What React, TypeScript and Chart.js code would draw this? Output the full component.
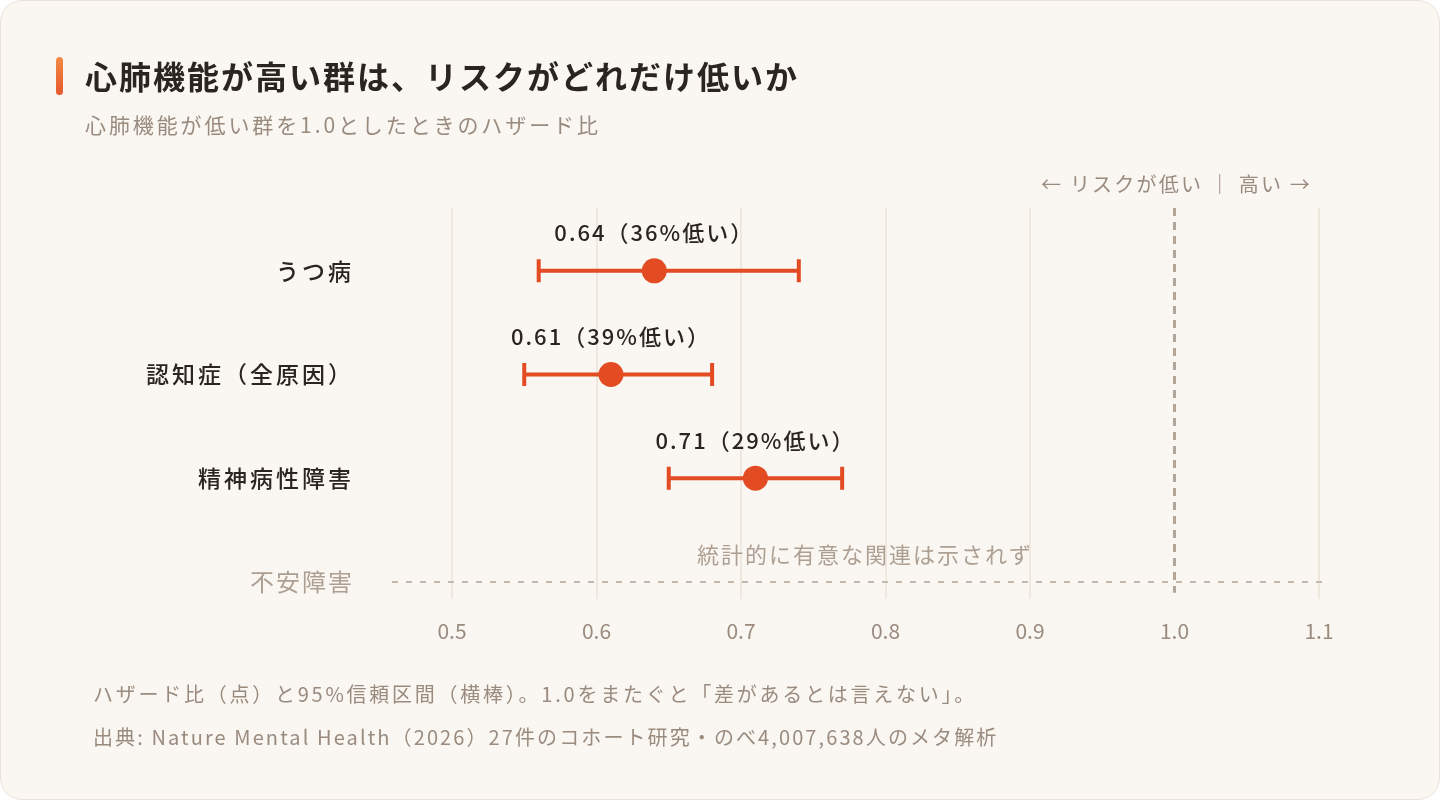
import { useEffect, useRef } from 'react';
import { Chart, registerables } from 'chart.js';

Chart.register(...registerables);

// Outcomes, top to bottom
const outcomes = ['うつ病', '認知症（全原因）', '精神病性障害', '不安障害'];
// Hazard ratio (high vs. low cardiorespiratory fitness) and 95% CI; null = no significant association
const hazardRatios: (number | null)[] = [0.64, 0.61, 0.71, null];
const ciLower: (number | null)[] = [0.56, 0.55, 0.65, null];
const ciUpper: (number | null)[] = [0.74, 0.68, 0.77, null];
const xTickValues = [0.5, 0.6, 0.7, 0.8, 0.9, 1.0, 1.1];
const referenceValue = 1.0;

const titleText = '心肺機能が高い群は、リスクがどれだけ低いか';
const subtitleText = '心肺機能が低い群を1.0としたときのハザード比';
const directionText = '← リスクが低い ｜ 高い →';
const nonSignificantText = '統計的に有意な関連は示されず';
const footnoteLines = [
  'ハザード比（点）と95%信頼区間（横棒）。1.0をまたぐと「差があるとは言えない」。',
  '出典: Nature Mental Health（2026）27件のコホート研究・のべ4,007,638人のメタ解析',
];

const FONT = '"Noto Sans CJK JP", "Noto Sans", sans-serif';
const ACCENT = '#e34b23';
const INK = '#2a2521';
const MUTED = '#9a8b7f';
const FAINT = '#ad9f92';

const valueLabel = (hr: number) => `${hr.toFixed(2)}（${Math.round((1 - hr) * 100)}%低い）`;

function setText(ctx: CanvasRenderingContext2D, size: number, weight: number, color: string, spacing: number) {
  ctx.font = `${weight} ${size}px ${FONT}`;
  ctx.fillStyle = color;
  (ctx as any).letterSpacing = `${spacing}px`;
}

const forestPlugin = {
  id: 'forest',
  beforeDatasetsDraw(chart: Chart) {
    const { ctx, scales, chartArea } = chart;
    const x = scales.x;
    const y = scales.y;
    ctx.save();

    // reference line at HR = 1.0
    const xr = x.getPixelForValue(referenceValue);
    ctx.strokeStyle = '#b3a699';
    ctx.lineWidth = 3;
    ctx.setLineDash([8, 6]);
    ctx.beginPath();
    ctx.moveTo(xr, chartArea.top);
    ctx.lineTo(xr, chartArea.bottom - 6);
    ctx.stroke();

    // confidence intervals with end caps
    ctx.setLineDash([]);
    ctx.strokeStyle = ACCENT;
    ctx.lineWidth = 4;
    outcomes.forEach((_, i) => {
      const lo = ciLower[i];
      const hi = ciUpper[i];
      if (lo == null || hi == null) return;
      const py = y.getPixelForValue(i);
      const x0 = x.getPixelForValue(lo);
      const x1 = x.getPixelForValue(hi);
      ctx.beginPath();
      ctx.moveTo(x0, py);
      ctx.lineTo(x1, py);
      ctx.moveTo(x0, py - 11.5);
      ctx.lineTo(x0, py + 11.5);
      ctx.moveTo(x1, py - 11.5);
      ctx.lineTo(x1, py + 11.5);
      ctx.stroke();
    });

    // non-significant outcome: dashed guide across the plot
    outcomes.forEach((_, i) => {
      if (hazardRatios[i] != null) return;
      const py = y.getPixelForValue(i);
      const x0 = chartArea.left - 60;
      const x1 = chartArea.right + 3;
      ctx.strokeStyle = '#c6b9ad';
      ctx.lineWidth = 2;
      ctx.setLineDash([6, 8]);
      ctx.beginPath();
      ctx.moveTo(x0, py);
      ctx.lineTo(x1, py);
      ctx.stroke();
      ctx.setLineDash([]);
      setText(ctx, 22, 400, FAINT, 2);
      ctx.textAlign = 'center';
      ctx.textBaseline = 'middle';
      ctx.fillText(nonSignificantText, (x0 + x1) / 2 + 8, py - 27);
    });
    ctx.restore();
  },
  afterDraw(chart: Chart) {
    const { ctx, scales, chartArea } = chart;
    const x = scales.x;
    const y = scales.y;
    ctx.save();
    ctx.textBaseline = 'middle';

    // title accent bar
    const grad = ctx.createLinearGradient(0, 57, 0, 95);
    grad.addColorStop(0, '#f28a45');
    grad.addColorStop(1, '#e5582b');
    ctx.fillStyle = grad;
    ctx.beginPath();
    (ctx as any).roundRect(56, 57, 7, 38, 3.5);
    ctx.fill();

    // title and subtitle
    ctx.textAlign = 'left';
    setText(ctx, 32, 700, INK, 2);
    ctx.fillText(titleText, 85, 77);
    setText(ctx, 21, 400, MUTED, 2.9);
    ctx.fillText(subtitleText, 85, 125);

    // direction hint above the reference line
    ctx.textAlign = 'center';
    setText(ctx, 20, 400, MUTED, 2.2);
    ctx.fillText(directionText, x.getPixelForValue(referenceValue) + 2, 184);

    // category labels
    ctx.textAlign = 'right';
    outcomes.forEach((name, i) => {
      const sig = hazardRatios[i] != null;
      setText(ctx, sig ? 23 : 24, sig ? 500 : 400, sig ? INK : FAINT, sig ? 3 : 2);
      ctx.fillText(name, chartArea.left - 98, y.getPixelForValue(i));
    });

    // value labels above the points
    ctx.textAlign = 'center';
    outcomes.forEach((_, i) => {
      const hr = hazardRatios[i];
      if (hr == null) return;
      setText(ctx, 22, 500, INK, 2);
      ctx.fillText(valueLabel(hr), x.getPixelForValue(hr), y.getPixelForValue(i) - 38);
    });

    // footnotes
    ctx.textAlign = 'left';
    setText(ctx, 20, 400, MUTED, 2.75);
    ctx.fillText(footnoteLines[0], 93, 694);
    setText(ctx, 20, 400, MUTED, 2.1);
    ctx.fillText(footnoteLines[1], 93, 737);
    ctx.restore();
  },
};

export default function App() {
  const canvasRef = useRef<HTMLCanvasElement>(null);

  useEffect(() => {
    if (!canvasRef.current) return;
    const points = outcomes
      .map((_, i) => (hazardRatios[i] == null ? null : { x: hazardRatios[i] as number, y: i }))
      .filter((p) => p !== null) as { x: number; y: number }[];

    const chart = new Chart(canvasRef.current, {
      type: 'scatter',
      data: {
        datasets: [
          {
            data: points,
            pointRadius: 12.5,
            pointHoverRadius: 12.5,
            pointBackgroundColor: ACCENT,
            pointBorderWidth: 0,
          },
        ],
      },
      options: {
        animation: false,
        responsive: false,
        maintainAspectRatio: false,
        layout: { padding: { left: 452, right: 121, top: 208, bottom: 136 } },
        plugins: { legend: { display: false }, tooltip: { enabled: false } },
        scales: {
          x: {
            type: 'linear',
            min: 0.5,
            max: 1.1,
            afterBuildTicks: (scale: any) => {
              scale.ticks = xTickValues.map((v) => ({ value: v }));
            },
            ticks: {
              color: MUTED,
              padding: 20,
              font: { family: FONT, size: 21 },
              callback: (v: any) => Number(v).toFixed(1),
            },
            grid: {
              drawTicks: false,
              lineWidth: 2,
              color: (c: any) =>
                c.tick && Math.abs(c.tick.value - referenceValue) < 1e-9 ? 'rgba(0,0,0,0)' : '#efe8df',
            },
            border: { display: false },
          },
          y: {
            type: 'linear',
            display: false,
            reverse: true,
            min: -0.606,
            max: 3.163,
          },
        },
      },
      plugins: [forestPlugin],
    });
    return () => chart.destroy();
  }, []);

  return (
    <div
      style={{
        position: 'fixed',
        left: 0,
        top: 0,
        width: 1440,
        height: 800,
        background: '#ffffff',
      }}
    >
      <div
        style={{
          position: 'absolute',
          inset: 0,
          boxSizing: 'border-box',
          background: '#faf6f1',
          border: '1.5px solid #ebe1d6',
          borderRadius: 22,
        }}
      />
      <canvas
        ref={canvasRef}
        width={1440}
        height={800}
        style={{ position: 'absolute', left: 0, top: 0, width: 1440, height: 800 }}
      />
    </div>
  );
}
